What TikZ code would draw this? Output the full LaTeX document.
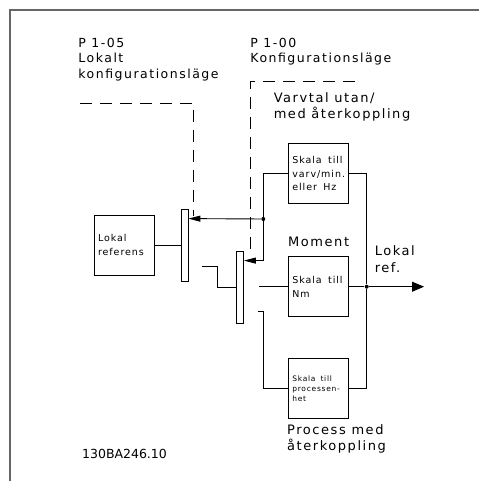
\documentclass[tikz,border=0pt]{standalone}
\usepackage{fontspec}
\setmainfont{DejaVu Sans}
\newfontfamily\lbl[LetterSpace=12]{DejaVu Sans}
\newfontfamily\boxf[LetterSpace=10]{DejaVu Sans}
\usetikzlibrary{arrows.meta,calc}

\begin{document}
\begin{tikzpicture}[x=1pt, y=-1pt, line width=0.9pt,
  >={Triangle[length=12pt,width=10pt]},
  tag/.style={anchor=north west, inner sep=0pt, align=left,
    font=\lbl\fontsize{13}{16.5}\selectfont},
  skbox/.style={draw, minimum width=60pt, minimum height=60pt, inner xsep=4pt,
    text width=52pt, align=left, font=\boxf\fontsize{9.5}{13.5}\selectfont},
  swbar/.style={draw, fill=white, line width=0.8pt, minimum width=7pt,
    minimum height=72pt, inner sep=0pt},
  contact/.style={{Triangle[length=12pt,width=6pt]}-},
  ctrl/.style={dash pattern=on 12pt off 8pt},
  dot/.style={circle, fill, inner sep=0pt, minimum size=4pt}]
  \useasboundingbox (0,0) rectangle (479,481);
  \draw[black!60, line width=2pt] (10,481) -- (10,10) -- (479,10);

  % labels
  \node[tag, font=\lbl\fontsize{12.5}{15.5}\selectfont] (p105) at (78,37.7)
    {P 1-05\\Lokalt\\konfigurationsläge};
  \node[tag, font=\lbl\fontsize{12.5}{15.5}\selectfont] (p100) at (250,37.7)
    {P 1-00\\Konfigurationsläge};
  \node[tag] (varv) at (273.3,92) {Varvtal utan/\\med återkoppling};
  \node[tag] (mom) at (287.7,236.5) {Moment};
  \node[tag] (lref) at (374.3,245.5) {Lokal\\ref.};
  \node[tag] (proc) at (286.7,424) {Process med\\återkoppling};
  \node[tag, font=\fontsize{12.5}{15}\selectfont] (code) at (81.7,449) {130BA246.10};

  % blocks
  \node[skbox] (ref) at (124,245) {Lokal\\referens};
  \node[skbox] (sk1) at (318.3,173.5) {Skala\ \ till\\varv/min.\\eller\ \ Hz};
  \node[skbox] (sk2) at (318.3,286.7) {Skala\ \ till\\Nm};
  \node[skbox, font=\boxf\fontsize{7.5}{10}\selectfont] (sk3) at (318.3,388.3)
    {Skala\ \ till\\processen-\\het};
  \node[swbar] (sw1) at (184.5,245) {};
  \node[swbar] (sw2) at (240,287) {};

  \node[dot] (j1) at (263.3,219) {};
  \node[dot] (jr) at (366.7,286.7) {};
  \coordinate (out) at (424,286.7);
  \coordinate (r2) at (201.7,266);
  \coordinate (o2) at (259,286.7);
  \coordinate (o3) at (257.7,311.7);
  \coordinate (c1) at (80,103);
  \coordinate (c2) at (355,81);

  % wiring
  \draw (ref) -- (sw1);
  \draw[contact] ([yshift=-10pt]sw1.north east) -- (j1);
  \draw (j1) |- (sk1.west);
  \draw[contact] ([yshift=-10pt]sw2.north east) -| (j1);
  \draw (r2) -- ++(15.6,0) |- (sw2.west);
  \draw (o2) -- (sk2.west);
  \draw (o3) -- ++(5.6,0) |- (sk3.west);
  \draw (sk1.east) -| (jr);
  \draw (sk3.east) -| (jr);
  \draw (sk2) -- (jr);
  \draw[->] (jr) -- (out);

  % mode selectors
  \draw[ctrl] (c1) -| ([xshift=5pt,yshift=-7pt]sw1.north east);
  \draw[ctrl] (c2) -| ([xshift=7pt,yshift=-4pt]sw2.north east);
\end{tikzpicture}
\end{document}
